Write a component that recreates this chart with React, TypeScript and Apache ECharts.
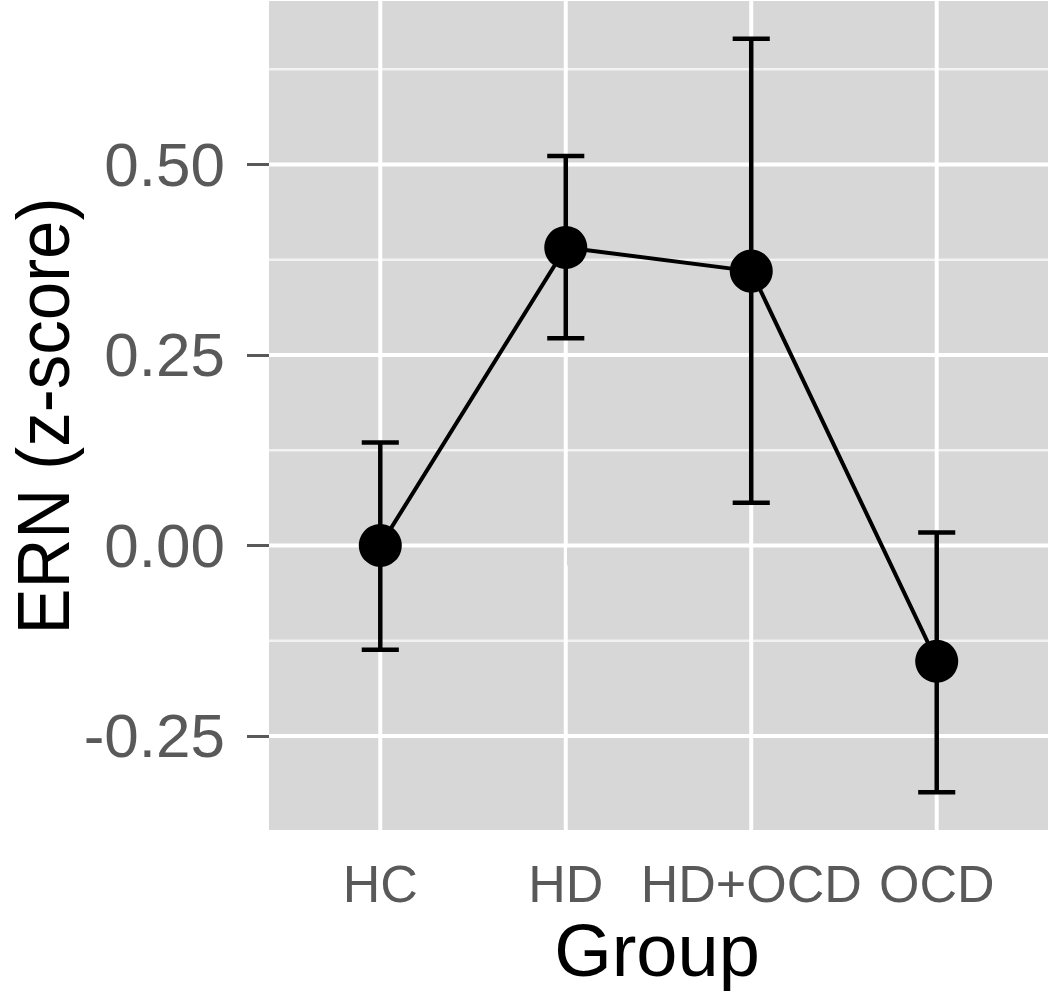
import React, { useEffect, useRef } from "react";
import * as echarts from "echarts";

const groups = ["HC", "HD", "HD+OCD", "OCD"];
const means = [0.0, 0.391, 0.36, -0.152];
const lowers = [-0.137, 0.272, 0.056, -0.324];
const uppers = [0.135, 0.511, 0.665, 0.017];
const xPositions = [1, 2, 3, 4];
const yTicks = [-0.25, 0, 0.25, 0.5];
const yMinorTicks = [-0.125, 0.125, 0.375, 0.625];

const Y_MIN = -0.3735;
const Y_MAX = 0.7145;
const X_MIN = 0.4;
const X_MAX = 4.6;

const FONT = "'Liberation Sans', Arial, Helvetica, sans-serif";
const TICK_COLOR = "#595959";

export default function App() {
  const ref = useRef<HTMLDivElement>(null);

  useEffect(() => {
    if (!ref.current) return;
    const chart = echarts.init(ref.current, null, { renderer: "svg" });

    const hLine = (width: number, color: string) => (params: any, api: any) => {
      const cs = params.coordSys;
      const y = api.coord([X_MIN, api.value(1)])[1];
      return {
        type: "line",
        shape: { x1: cs.x, y1: y, x2: cs.x + cs.width, y2: y },
        style: { stroke: color, lineWidth: width },
        silent: true,
      };
    };
    const vLine = (width: number, color: string) => (params: any, api: any) => {
      const cs = params.coordSys;
      const x = api.coord([api.value(0), Y_MIN])[0];
      return {
        type: "line",
        shape: { x1: x, y1: cs.y, x2: x, y2: cs.y + cs.height },
        style: { stroke: color, lineWidth: width },
        silent: true,
      };
    };

    chart.setOption({
      animation: false,
      backgroundColor: "#ffffff",
      textStyle: { fontFamily: FONT },
      grid: {
        left: 269,
        top: 1,
        right: 2,
        bottom: 164,
        show: true,
        backgroundColor: "#d7d7d7",
        borderWidth: 0,
        containLabel: false,
      },
      xAxis: {
        type: "value",
        min: X_MIN,
        max: X_MAX,
        axisLine: { show: false },
        splitLine: { show: false },
        axisTick: {
          show: true,
          customValues: xPositions,
          length: 20,
          lineStyle: { color: TICK_COLOR, width: 3 },
        },
        axisLabel: {
          customValues: xPositions,
          formatter: (v: number) => groups[Math.round(v) - 1] ?? "",
          fontSize: 52,
          color: TICK_COLOR,
          margin: 28,
          fontFamily: FONT,
        },
      },
      yAxis: {
        type: "value",
        min: Y_MIN,
        max: Y_MAX,
        axisLine: { show: false },
        splitLine: { show: false },
        axisTick: {
          show: true,
          customValues: yTicks,
          length: 22,
          lineStyle: { color: TICK_COLOR, width: 3 },
        },
        axisLabel: {
          customValues: yTicks,
          formatter: (v: number) => v.toFixed(2),
          fontSize: 62,
          color: TICK_COLOR,
          margin: 44,
          fontFamily: FONT,
        },
      },
      graphic: [
        {
          type: "text",
          x: 43,
          y: 416,
          rotation: Math.PI / 2,
          scaleX: 0.92,
          style: {
            text: "ERN (z-score)",
            fontSize: 75,
            fontFamily: FONT,
            fill: "#000",
            textAlign: "center",
            textVerticalAlign: "middle",
          },
        },
        {
          type: "text",
          x: 657,
          y: 950,
          style: {
            text: "Group",
            fontSize: 74,
            fontFamily: FONT,
            fill: "#000",
            textAlign: "center",
            textVerticalAlign: "middle",
          },
        },
      ],
      series: [
        {
          type: "custom",
          z: 1,
          silent: true,
          renderItem: hLine(2.5, "#f2f2f2"),
          data: yMinorTicks.map((v) => [X_MIN, v]),
        },
        {
          type: "custom",
          z: 1,
          silent: true,
          renderItem: hLine(4, "#ffffff"),
          data: yTicks.map((v) => [X_MIN, v]),
        },
        {
          type: "custom",
          z: 1,
          silent: true,
          renderItem: vLine(4, "#ffffff"),
          data: xPositions.map((v) => [v, Y_MIN]),
        },
        {
          type: "custom",
          z: 3,
          renderItem: (params: any, api: any) => {
            const x = api.value(0);
            const lo = api.coord([x, api.value(1)]);
            const hi = api.coord([x, api.value(2)]);
            const half = api.coord([x + 0.1, api.value(1)])[0] - lo[0];
            const style = { stroke: "#000", lineWidth: 4.5 };
            return {
              type: "group",
              children: [
                { type: "line", shape: { x1: lo[0], y1: lo[1], x2: hi[0], y2: hi[1] }, style },
                { type: "line", shape: { x1: hi[0] - half, y1: hi[1], x2: hi[0] + half, y2: hi[1] }, style },
                { type: "line", shape: { x1: lo[0] - half, y1: lo[1], x2: lo[0] + half, y2: lo[1] }, style },
              ],
            };
          },
          data: xPositions.map((x, i) => [x, lowers[i], uppers[i]]),
        },
        {
          type: "line",
          z: 4,
          data: xPositions.map((x, i) => [x, means[i]]),
          symbol: "circle",
          symbolSize: 43,
          itemStyle: { color: "#000" },
          lineStyle: { color: "#000", width: 4 },
        },
      ],
    });

    return () => chart.dispose();
  }, []);

  return (
    <div
      ref={ref}
      style={{ position: "fixed", left: 0, top: 0, width: 1050, height: 994 }}
    />
  );
}
